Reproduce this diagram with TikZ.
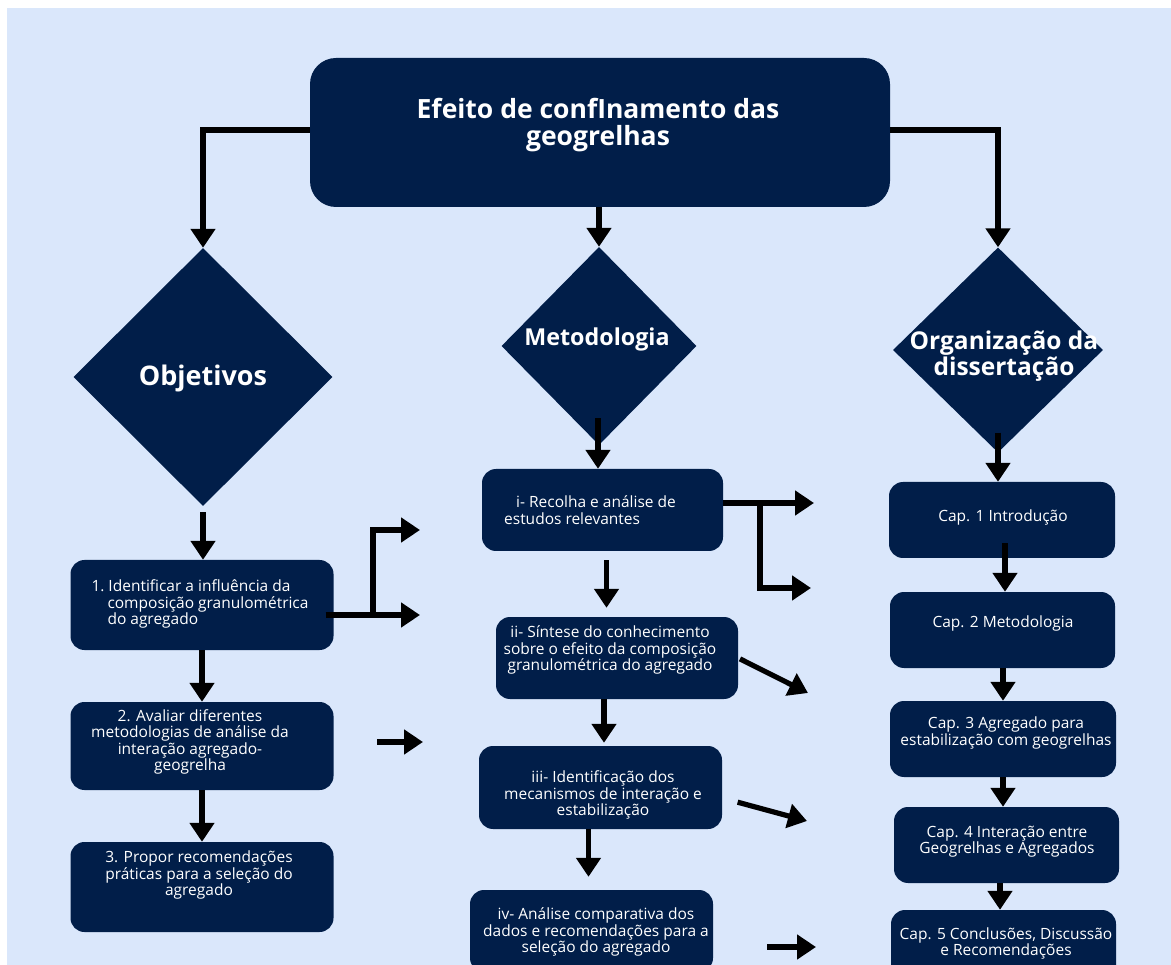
\documentclass[tikz,border=0pt]{standalone}
\usepackage{fontspec}
\setmainfont{Open Sans}
\usetikzlibrary{shapes.geometric,arrows.meta}

\definecolor{navy}{HTML}{011E49}
\definecolor{paleblue}{HTML}{DAE7FB}

\begin{document}
\begin{tikzpicture}[x=1pt, y=-1pt,
  box/.style={fill=navy, rounded corners=14pt, inner sep=0pt},
  diam/.style={diamond, fill=navy, inner sep=0pt},
  txt/.style={text=white, align=center, inner sep=0pt, font=\fontsize{15.5}{16.5}\selectfont},
  head/.style={text=white, align=center, inner sep=0pt, font=\bfseries\fontsize{23}{25}\selectfont},
  arr/.style={line width=5.2pt, -{Triangle[length=19pt,width=24pt]}}]

  % page with its white margin
  \fill[white] (0,0) rectangle (1171,965);
  \fill[paleblue] (7,8) rectangle (1171,965);
  \path[use as bounding box, clip] (0,0) rectangle (1171,965);

  % title and the three headings
  \node[box, rounded corners=26pt, minimum width=580pt, minimum height=149pt] (title) at (600,132.5) {};
  \node[head, font=\bfseries\fontsize{26.5}{27}\selectfont] (titlet) at (598,125) {Efeito de confInamento das\\geogrelhas};

  \node[diam, minimum width=259pt, minimum height=258pt] (obj) at (203,377) {};
  \node[head, font=\bfseries\fontsize{27}{28}\selectfont] (objt) at (203,378) {Objetivos};
  \node[diam, minimum width=195pt, minimum height=198pt] (met) at (599,346) {};
  \node[head, font=\bfseries\fontsize{23.3}{25}\selectfont] (mett) at (597,339) {Metodologia};
  \node[diam, minimum width=210pt, minimum height=205pt] (org) at (998,350) {};
  \node[head, font=\bfseries\fontsize{24.5}{24}\selectfont] (orgt) at (1004,356) {Organização da\\dissertação};

  % objectives
  \node[box, minimum width=263pt, minimum height=90pt] (g1) at (202,605) {};
  \node[txt, align=left] (g1t) at (200,604) {1.\hspace{4pt}Identificar a influência da\\\hspace*{16pt}composição granulométrica\\\hspace*{16pt}do agregado};
  \node[box, minimum width=263pt, minimum height=88pt] (g2) at (202,746) {};
  \node[txt] (g2t) at (190,742) {2. Avaliar diferentes\\metodologias de análise da\\interação agregado-\\geogrelha};
  \node[box, minimum width=263pt, minimum height=90pt] (g3) at (202,887) {};
  \node[txt] (g3t) at (199,875) {3. Propor recomendações\\práticas para a seleção do\\agregado};

  % methodology
  \node[box, minimum width=241pt, minimum height=82pt] (mi) at (602.5,510) {};
  \node[txt, align=left] (mit) at (590,510) {\hspace*{12pt}i- Recolha e análise de\\estudos relevantes};
  \node[box, minimum width=242pt, minimum height=82pt] (mii) at (617,658) {};
  \node[txt] (miit) at (610,650) {ii- Síntese do conhecimento\\sobre o efeito da composição\\granulométrica do agregado};
  \node[box, minimum width=243pt, minimum height=83pt] (miii) at (600.5,787.5) {};
  \node[txt] (miiit) at (603,795) {iii- Identificação dos\\mecanismos de interação e\\estabilização};
  \node[box, minimum width=243pt, minimum height=82pt] (miv) at (591.5,931) {};
  \node[txt] (mivt) at (596,932) {iv- Análise comparativa dos\\dados e recomendações para a\\seleção do agregado};

  % chapters
  \node[box, minimum width=226pt, minimum height=76pt] (c1) at (1002,520) {};
  \node[txt] (c1t) at (1003,517) {Cap. 1 Introdução};
  \node[box, minimum width=225pt, minimum height=76pt] (c2) at (1002.5,630) {};
  \node[txt] (c2t) at (1003,623) {Cap. 2 Metodologia};
  \node[box, minimum width=226pt, minimum height=76pt] (c3) at (1003,739) {};
  \node[txt] (c3t) at (1006,733) {Cap. 3 Agregado para\\\makebox[0pt]{estabilização com geogrelhas}};
  \node[box, minimum width=225pt, minimum height=76pt] (c4) at (1006.5,845) {};
  \node[txt] (c4t) at (1007,841.5) {Cap. 4 Interação entre\\Geogrelhas e Agregados};
  \node[box, minimum width=225pt, minimum height=76pt] (c5) at (1003.5,948) {};
  \node[txt] (c5t) at (1006,943.5) {\makebox[0pt]{Cap. 5 Conclusões, Discussão}\\e Recomendações};

  % free ends of the side arrows
  \coordinate (o1a) at (420,530);
  \coordinate (o1b) at (420,615);
  \coordinate (o1j) at (373,615);
  \coordinate (o2s) at (377,742);
  \coordinate (o2e) at (423,742);
  \coordinate (m1a) at (814,503);
  \coordinate (m1b) at (811,588);
  \coordinate (m1j) at (760,503);
  \coordinate (m2e) at (808,693);
  \coordinate (m3e) at (807,821);
  \coordinate (m4s) at (767,947);
  \coordinate (m4e) at (816,947);

  % title to headings
  \draw[arr] (title.west |- 0,130) -| (obj.north);
  \draw[arr] (title.east |- 0,130) -| (org.north);
  \draw[arr] (title.south -| met.north) -- (met.north);

  % down the columns
  \draw[arr, shorten <=6pt] (obj.south) -- (obj.south |- g1.north);
  \draw[arr] (g1.south) -- (g1.south |- g2.north);
  \draw[arr] (g2.south) -- (g2.south |- g3.north);

  \draw[arr, shorten <=-27pt] ([xshift=-1pt]met.south) -- ([xshift=-1pt]met.south |- mi.north);
  \draw[arr, shorten <=9pt, shorten >=9pt] ([xshift=4pt]mi.south) -- ([xshift=4pt]mi.south |- mii.north);
  \draw[arr, shorten >=3pt] ([xshift=-13pt]mii.south) -- ([xshift=-13pt]mii.south |- miii.north);
  \draw[arr, shorten >=13pt] ([xshift=-12pt]miii.south) -- ([xshift=-12pt]miii.south |- miv.north);

  \draw[arr, shorten <=-20pt] (org.south) -- (org.south |- c1.north);
  \draw[arr, shorten <=-15pt] ([xshift=3pt]c1.south) -- ([xshift=3pt]c1.south |- c2.north);
  \draw[arr] ([xshift=0.5pt]c2.south) -- ([xshift=0.5pt]c2.south |- c3.north);
  \draw[arr] (c3.south) -- (c3.south |- c4.north);
  \draw[arr] ([xshift=-6.5pt]c4.south) -- ([xshift=-6.5pt]c4.south |- c5.north);

  % side arrows
  \draw[arr, shorten <=-8pt] (g1.east |- o1b) -- (o1b);
  \draw[arr] (o1j) |- (o1a);
  \draw[arr] (o2s) -- (o2e);
  \draw[arr] (mi.east |- m1a) -- (m1a);
  \draw[arr] (m1j) |- (m1b);
  \draw[arr, shorten <=2pt] (mii.east) -- (m2e);
  \draw[arr, shorten <=16pt] (miii.east |- 0,798) -- (m3e);
  \draw[arr] (m4s) -- (m4e);
\end{tikzpicture}
\end{document}
